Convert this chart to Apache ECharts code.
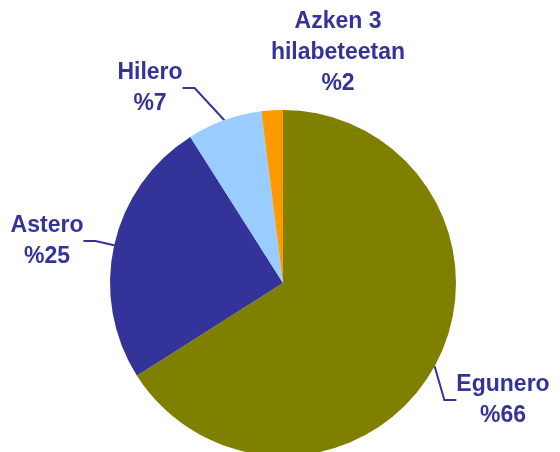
<!DOCTYPE html>
<html>
<head>
<meta charset="utf-8">
<script src="https://cdn.jsdelivr.net/npm/echarts@6/dist/echarts.min.js"></script>
<style>
  html, body { margin: 0; padding: 0; background: #fff; }
  #pieChart { width: 560px; height: 452px; }
</style>
</head>
<body>
<div id="pieChart"></div>
<script>
// datuak
const categories = ['Egunero', 'Astero', 'Hilero', 'Azken 3\nhilabeteetan']
const values = [66, 25, 7, 2]
const colors = ['#808000', '#333399', '#99CCFF', '#FF9900']

// etiketen kokapena (pixeletan)
const labelPos = [
  { x: 503, y: 400 },
  { x: 47, y: 241 },
  { x: 150, y: 88 },
  { x: 338, y: 53 }
]

const initPieChart = () => {
  const data = categories.map((name, i) => ({
    name,
    value: values[i],
    labelLine: { show: i !== 3 }
  }))

  const option = {
    animation: false,
    color: colors,
    series: [
      {
        type: 'pie',
        center: [283, 283],
        radius: 173,
        startAngle: 90,
        clockwise: true,
        itemStyle: { borderWidth: 0 },
        label: {
          show: true,
          position: 'outside',
          formatter: (p) => `${p.name}\n%${p.value}`,
          color: '#333399',
          fontFamily: 'Liberation Sans, Arial, sans-serif',
          fontWeight: 'bold',
          fontSize: 23,
          lineHeight: 31,
          align: 'center',
          overflow: 'none'
        },
        labelLine: {
          show: true,
          length: 15,
          length2: 12,
          lineStyle: { color: '#333399', width: 2 }
        },
        labelLayout: (params) => ({
          x: labelPos[params.dataIndex].x,
          y: labelPos[params.dataIndex].y,
          align: 'center',
          verticalAlign: 'middle'
        }),
        data
      }
    ]
  }

  const myChart = echarts.init(document.getElementById('pieChart'))
  option && myChart.setOption(option)
}
initPieChart()
</script>
</body>
</html>
